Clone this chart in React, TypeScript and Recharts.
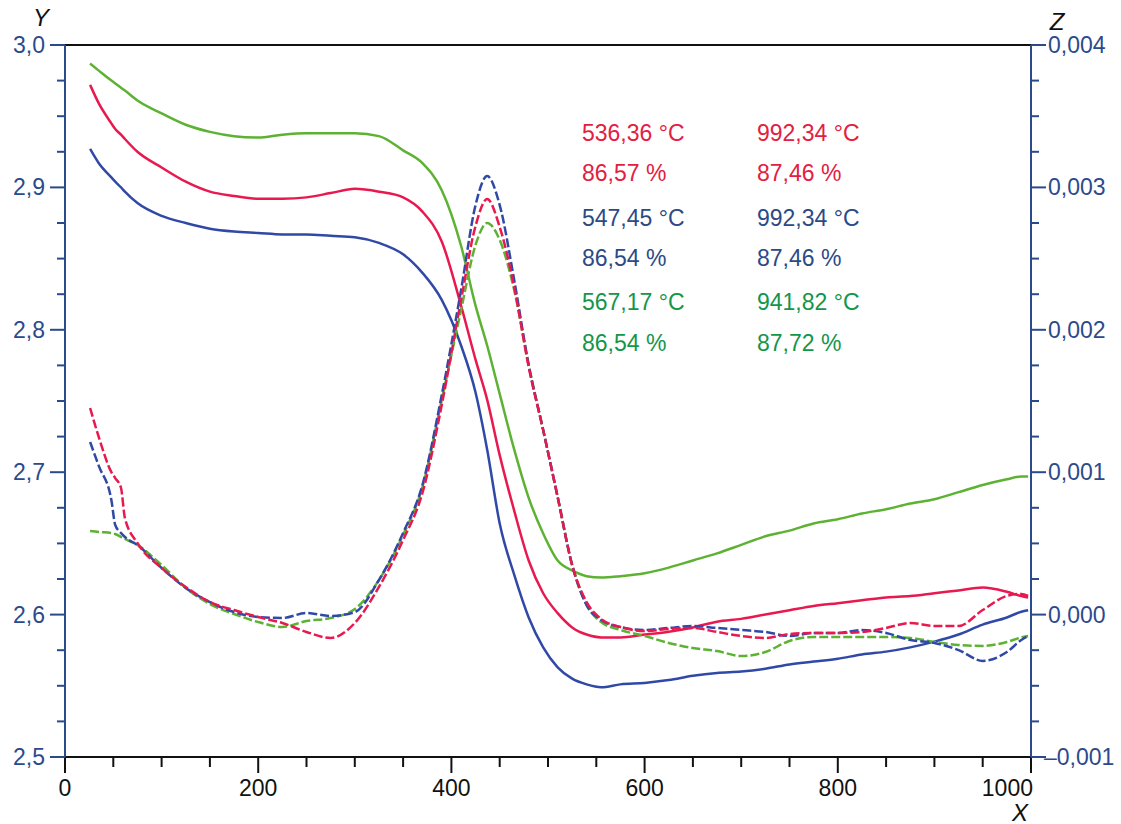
import { LineChart, Line, XAxis, YAxis, ReferenceLine } from 'recharts'

// temperature axis (X), shared by all six curves
const xs = [26, 35, 48, 52, 58, 62, 75, 100, 125, 150, 175, 200, 225, 250, 275, 300, 325, 350, 370, 390,
  410, 425, 437, 450, 465, 480, 495, 510, 525, 540, 555, 575, 600, 625, 650, 675, 700, 725, 750, 775,
  800, 825, 850, 875, 900, 925, 950, 975, 990, 997]

// Y (left axis), solid lines
const greenY = [2.987, 2.982, 2.975, 2.973, 2.970, 2.968, 2.961, 2.952, 2.944, 2.939, 2.936, 2.935, 2.937, 2.938, 2.938, 2.938, 2.936, 2.926, 2.917, 2.898,
  2.859, 2.817, 2.789, 2.755, 2.716, 2.682, 2.657, 2.638, 2.631, 2.627, 2.626, 2.627, 2.629, 2.633, 2.638, 2.643, 2.649, 2.655, 2.659, 2.664,
  2.667, 2.671, 2.674, 2.678, 2.681, 2.686, 2.691, 2.695, 2.697, 2.697]
const redY = [2.972, 2.959, 2.945, 2.941, 2.937, 2.934, 2.925, 2.914, 2.904, 2.897, 2.894, 2.892, 2.892, 2.893, 2.896, 2.899, 2.897, 2.893, 2.883, 2.862,
  2.817, 2.779, 2.751, 2.712, 2.673, 2.638, 2.615, 2.601, 2.591, 2.586, 2.584, 2.584, 2.586, 2.588, 2.591, 2.595, 2.597, 2.600, 2.603, 2.606,
  2.608, 2.610, 2.612, 2.613, 2.615, 2.617, 2.619, 2.616, 2.613, 2.612]
const blueY = [2.927, 2.917, 2.907, 2.904, 2.900, 2.897, 2.889, 2.880, 2.875, 2.871, 2.869, 2.868, 2.867, 2.867, 2.866, 2.865, 2.861, 2.853, 2.840, 2.821,
  2.789, 2.756, 2.716, 2.664, 2.628, 2.598, 2.577, 2.563, 2.555, 2.551, 2.549, 2.551, 2.552, 2.554, 2.557, 2.559, 2.560, 2.562, 2.565, 2.567,
  2.569, 2.572, 2.574, 2.577, 2.581, 2.586, 2.593, 2.598, 2.602, 2.603]

// Z (right axis), dashed lines, in units of 0.001
const redZ = [1.451, 1.246, 1.001, 0.959, 0.889, 0.678, 0.503, 0.327, 0.194, 0.088, 0.032, -0.017, -0.059, -0.122, -0.164, -0.059, 0.194, 0.524, 0.854, 1.472,
  2.209, 2.729, 2.918, 2.722, 2.301, 1.739, 1.296, 0.826, 0.348, 0.088, -0.031, -0.087, -0.115, -0.101, -0.094, -0.122, -0.150, -0.164, -0.136, -0.129,
  -0.129, -0.122, -0.094, -0.059, -0.080, -0.080, 0.032, 0.131, 0.145, 0.131]
const blueZ = [1.212, 1.044, 0.805, 0.629, 0.573, 0.545, 0.489, 0.327, 0.187, 0.088, 0.018, -0.017, -0.024, 0.011, -0.010, 0.018, 0.243, 0.573, 0.910, 1.542,
  2.279, 2.876, 3.080, 2.876, 2.350, 1.753, 1.296, 0.826, 0.348, 0.067, -0.038, -0.087, -0.108, -0.094, -0.080, -0.094, -0.108, -0.122, -0.150, -0.129,
  -0.129, -0.108, -0.129, -0.178, -0.199, -0.249, -0.325, -0.263, -0.178, -0.150]
const greenZ = [0.587, 0.580, 0.573, 0.566, 0.545, 0.531, 0.489, 0.348, 0.187, 0.074, 0.004, -0.052, -0.087, -0.045, -0.024, 0.039, 0.243, 0.559, 0.896, 1.507,
  2.139, 2.596, 2.750, 2.631, 2.279, 1.753, 1.296, 0.826, 0.348, 0.067, -0.052, -0.108, -0.150, -0.199, -0.235, -0.256, -0.291, -0.263, -0.185, -0.157,
  -0.157, -0.157, -0.157, -0.164, -0.192, -0.213, -0.220, -0.192, -0.160, -0.150]

const xTicks = [0, 50, 100, 150, 200, 250, 300, 350, 400, 450, 500, 550, 600, 650, 700, 750, 800, 850, 900, 950, 1000]
const yMajor = [2.5, 2.6, 2.7, 2.8, 2.9, 3.0]
const zMajor = [-1, 0, 1, 2, 3, 4]

// annotation block: [text, colour, x, y]
const notes: [string, string, number, number][] = [
  ['536,36 °C', '#e3203f', 582, 133], ['992,34 °C', '#e3203f', 757, 133],
  ['86,57 %', '#e3203f', 582, 173], ['87,46 %', '#e3203f', 757, 173],
  ['547,45 °C', '#2b4a86', 582, 218], ['992,34 °C', '#2b4a86', 757, 218],
  ['86,54 %', '#2b4a86', 582, 258], ['87,46 %', '#2b4a86', 757, 258],
  ['567,17 °C', '#13964a', 582, 302], ['941,82 °C', '#13964a', 757, 302],
  ['86,54 %', '#13964a', 582, 343], ['87,72 %', '#13964a', 757, 343],
]

const RED = '#e8194e'
const BLUE = '#3049a6'
const GREEN = '#5db233'
const AXIS_BLUE = '#2b4a8c'
const FONT = '"Liberation Sans", Arial, sans-serif'

const rows = xs.map((x, i) => ({
  x, gs: greenY[i], rs: redY[i], bs: blueY[i], rd: redZ[i], bd: blueZ[i], gd: greenZ[i],
}))

const minorSteps = (majors: number[], n: number) => {
  const out: number[] = []
  for (let i = 0; i < majors.length - 1; i++) {
    const step = (majors[i + 1] - majors[i]) / n
    for (let k = 0; k < n; k++) out.push(Math.round((majors[i] + k * step) * 10000) / 10000)
  }
  out.push(majors[majors.length - 1])
  return out
}
const yTicks = minorSteps(yMajor, 4)
const zTicks = minorSteps(zMajor, 4)

const isIn = (list: number[], v: number) => list.some(m => Math.abs(m - v) < 1e-6)

const LeftTick = ({ x, y, payload }: any) => {
  const major = isIn(yMajor, payload.value)
  return (
    <g>
      <line x1={x - (major ? 15 : 8)} x2={x} y1={y} y2={y} stroke={AXIS_BLUE} strokeWidth={2} />
      {major && (
        <text x={x - 20} y={y} textAnchor="end" dominantBaseline="central" fill={AXIS_BLUE}
          fontSize={23} fontFamily={FONT}>
          {payload.value.toFixed(1).replace('.', ',')}
        </text>
      )}
    </g>
  )
}

const RightTick = ({ x, y, payload }: any) => {
  const major = isIn(zMajor, payload.value)
  const label = (payload.value / 1000).toFixed(3).replace('.', ',').replace('-', '–')
  return (
    <g>
      <line x1={x} x2={x + (major ? 15 : 8)} y1={y} y2={y} stroke={AXIS_BLUE} strokeWidth={2} />
      {major && (
        <text x={x + (payload.value < 0 ? 13 : 17)} y={y} textAnchor="start" dominantBaseline="central"
          fill={AXIS_BLUE} fontSize={23} fontFamily={FONT}>
          {label}
        </text>
      )}
    </g>
  )
}

const BottomTick = ({ x, y, payload }: any) => {
  const major = payload.value % 200 === 0
  const last = payload.value === 1000
  return (
    <g>
      <line x1={x} x2={x} y1={y} y2={y + (major ? 16 : 10)} stroke="#111" strokeWidth={2} />
      {major && (
        <text x={last ? x + 2 : x} y={y + 31} textAnchor={last ? 'end' : 'middle'} dominantBaseline="central"
          fill="#111" fontSize={23} fontFamily={FONT}>
          {payload.value}
        </text>
      )}
    </g>
  )
}

export default function App() {
  return (
    <div style={{ position: 'absolute', left: 0, top: 0, width: 1121, height: 824, background: '#fff' }}>
      <LineChart width={1121} height={824} data={rows} margin={{ top: 45, right: 0, bottom: 0, left: 0 }}>
        <XAxis dataKey="x" type="number" domain={[0, 1000]} ticks={xTicks} interval={0} height={67}
          axisLine={{ stroke: '#111', strokeWidth: 2 }} tickLine={false} tickSize={0} tickMargin={0}
          tick={BottomTick} />
        <YAxis yAxisId="y" domain={[2.5, 3.0]} ticks={yTicks} interval={0} width={65}
          axisLine={{ stroke: AXIS_BLUE, strokeWidth: 2 }} tickLine={false} tickSize={0} tickMargin={0}
          tick={LeftTick} allowDataOverflow />
        <YAxis yAxisId="z" orientation="right" domain={[-1, 4]} ticks={zTicks} interval={0} width={90}
          axisLine={{ stroke: AXIS_BLUE, strokeWidth: 2 }} tickLine={false} tickSize={0} tickMargin={0}
          tick={RightTick} allowDataOverflow />
        <ReferenceLine yAxisId="y" y={3.0} stroke="#111" strokeWidth={2} />

        <Line yAxisId="y" dataKey="gs" type="monotone" stroke={GREEN} strokeWidth={2.5} dot={false} isAnimationActive={false} />
        <Line yAxisId="y" dataKey="rs" type="monotone" stroke={RED} strokeWidth={2.5} dot={false} isAnimationActive={false} />
        <Line yAxisId="y" dataKey="bs" type="monotone" stroke={BLUE} strokeWidth={2.5} dot={false} isAnimationActive={false} />
        <Line yAxisId="z" dataKey="gd" type="monotone" stroke={GREEN} strokeWidth={2.5} strokeDasharray="9 3" dot={false} isAnimationActive={false} />
        <Line yAxisId="z" dataKey="bd" type="monotone" stroke={BLUE} strokeWidth={2.5} strokeDasharray="9 3" dot={false} isAnimationActive={false} />
        <Line yAxisId="z" dataKey="rd" type="monotone" stroke={RED} strokeWidth={2.5} strokeDasharray="9 3" dot={false} isAnimationActive={false} />
      </LineChart>

      <svg width={1121} height={824} style={{ position: 'absolute', left: 0, top: 0, pointerEvents: 'none' }}>
        <text x={41} y={17} textAnchor="middle" dominantBaseline="central" fontSize={24} fontStyle="italic" fontFamily={FONT} fill="#111">Y</text>
        <text x={1057} y={21} textAnchor="middle" dominantBaseline="central" fontSize={24} fontStyle="italic" fontFamily={FONT} fill="#111">Z</text>
        <text x={1020} y={812} textAnchor="middle" dominantBaseline="central" fontSize={24} fontStyle="italic" fontFamily={FONT} fill="#111">X</text>
        {notes.map(([t, c, x, y], i) => (
          <text key={i} x={x} y={y} dominantBaseline="central" fontSize={23} fontFamily={FONT} fill={c}>{t}</text>
        ))}
      </svg>
    </div>
  )
}
